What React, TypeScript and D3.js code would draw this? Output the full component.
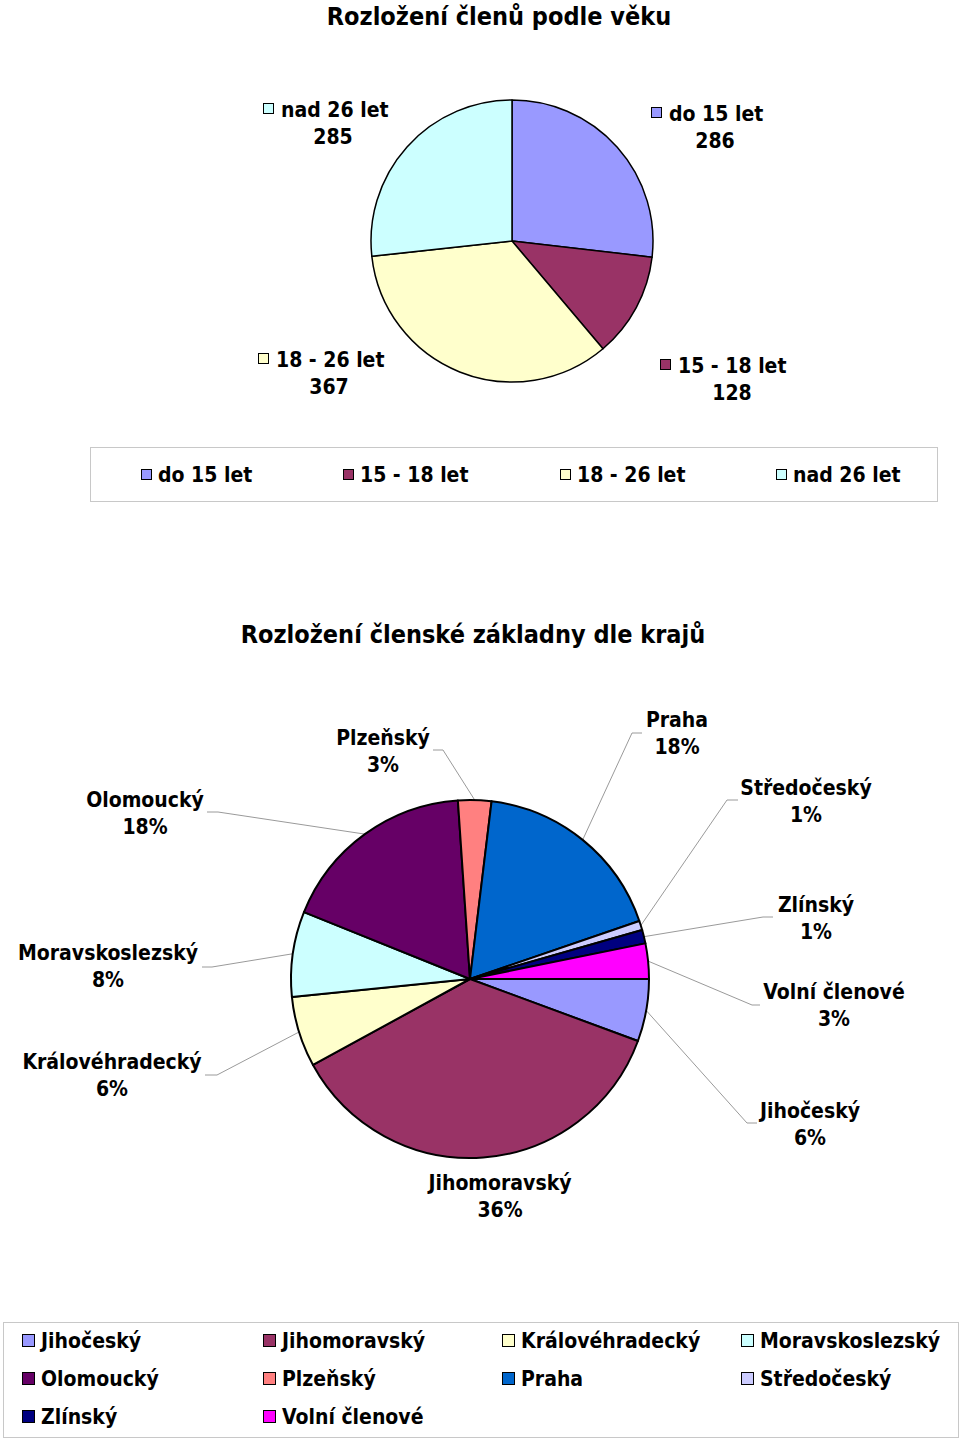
import React from "react";
import * as d3 from "d3";

// ---------- Data ----------
const ageCategories = ["do 15 let", "15 - 18 let", "18 - 26 let", "nad 26 let"];
const ageValues = [286, 128, 367, 285];
const ageColors = ["#9999FF", "#993366", "#FFFFCC", "#CCFFFF"];

const regionCategories = [
  "Jihočeský", "Jihomoravský", "Královéhradecký", "Moravskoslezský", "Olomoucký",
  "Plzeňský", "Praha", "Středočeský", "Zlínský", "Volní členové",
];
const regionValues = [60, 388, 68, 82, 190, 32, 190, 9, 13, 34];
const regionColors = [
  "#9999FF", "#993366", "#FFFFCC", "#CCFFFF", "#660066",
  "#FF8080", "#0066CC", "#CCCCFF", "#000080", "#FF00FF",
];

const ageTitle = "Rozložení členů podle věku";
const regionTitle = "Rozložení členské základny dle krajů";

// ---------- Layout ----------
const FONT = "'DejaVu Sans Condensed', 'DejaVu Sans', Tahoma, sans-serif";
const W = 960, H = 1440;

const pie1 = { cx: 512, cy: 241, r: 141 };
const pie2 = { cx: 470, cy: 979, r: 179 };

// age labels: key square x, first line baseline, value center x
const ageLabelPos = [
  { sx: 651, y: 121, vx: 715 },
  { sx: 660, y: 373, vx: 732 },
  { sx: 258, y: 367, vx: 329 },
  { sx: 263, y: 117, vx: 333 },
];

// region labels: center x, first baseline, leader start & elbow
const regionLabelPos: { x: number; y: number; s?: [number, number]; e?: [number, number] }[] = [
  { x: 810, y: 1118, s: [757, 1123], e: [747, 1123] },
  { x: 500, y: 1190 },
  { x: 112, y: 1069, s: [205, 1075], e: [217, 1075] },
  { x: 108, y: 960, s: [202, 967], e: [212, 967] },
  { x: 145, y: 807, s: [207, 812], e: [218, 812] },
  { x: 383, y: 745, s: [433, 750], e: [443, 750] },
  { x: 677, y: 727, s: [642, 733], e: [632, 733] },
  { x: 806, y: 795, s: [738, 800], e: [727, 800] },
  { x: 816, y: 912, s: [773, 917], e: [763, 917] },
  { x: 834, y: 999, s: [760, 1005], e: [752, 1005] },
];

const legend1Pos = [141, 343, 560, 776];
const legend2Cols = [22, 263, 502, 741];
const legend2Rows = [1348, 1386, 1424];

export default function App() {
  const pieGen1 = d3.pie<number>().sort(null).startAngle(0).endAngle(2 * Math.PI);
  const arcs1 = pieGen1(ageValues);
  const arc1 = d3.arc<d3.PieArcDatum<number>>().innerRadius(0).outerRadius(pie1.r);

  const pieGen2 = d3.pie<number>().sort(null).startAngle(Math.PI / 2).endAngle(Math.PI / 2 + 2 * Math.PI);
  const arcs2 = pieGen2(regionValues);
  const arc2 = d3.arc<d3.PieArcDatum<number>>().innerRadius(0).outerRadius(pie2.r);
  const total2 = d3.sum(regionValues);
  const pct = d3.format(".0%");

  const textStyle: React.CSSProperties = { fontFamily: FONT, fontWeight: "bold", fontSize: 21, fill: "#000" };

  return (
    <svg width={W} height={H} style={{ position: "absolute", left: 0, top: 0 }}>
      <rect x={0} y={0} width={W} height={H} fill="#fff" />
      {/* Chart 1 */}
      <text x={499} y={25} textAnchor="middle" style={{ ...textStyle, fontSize: 25 }}>{ageTitle}</text>
      <g transform={`translate(${pie1.cx},${pie1.cy})`}>
        {arcs1.map((a, i) => (
          <path key={i} d={arc1(a) || ""} fill={ageColors[i]} stroke="#000" strokeWidth={1.5} strokeLinejoin="round" />
        ))}
      </g>
      {ageCategories.map((c, i) => {
        const p = ageLabelPos[i];
        return (
          <g key={c}>
            <rect x={p.sx + 0.5} y={p.y - 13.5} width={10} height={10} fill={ageColors[i]} stroke="#000" strokeWidth={1} />
            <text x={p.sx + 18} y={p.y} style={textStyle}>{c}</text>
            <text x={p.vx} y={p.y + 27} textAnchor="middle" style={textStyle}>{ageValues[i]}</text>
          </g>
        );
      })}
      <rect x={90.5} y={447.5} width={847} height={54} fill="none" stroke="#c8c8c8" strokeWidth={1} />
      {ageCategories.map((c, i) => (
        <g key={"l1" + c}>
          <rect x={legend1Pos[i] + 0.5} y={469.5} width={10} height={10} fill={ageColors[i]} stroke="#000" strokeWidth={1} />
          <text x={legend1Pos[i] + 17} y={482} style={textStyle}>{c}</text>
        </g>
      ))}

      {/* Chart 2 */}
      <text x={473} y={643} textAnchor="middle" style={{ ...textStyle, fontSize: 25 }}>{regionTitle}</text>
      <g>
        {arcs2.map((a, i) => {
          const p = regionLabelPos[i];
          if (!p.s || !p.e) return null;
          const mid = (a.startAngle + a.endAngle) / 2;
          const ex = pie2.cx + pie2.r * Math.sin(mid);
          const ey = pie2.cy - pie2.r * Math.cos(mid);
          return (
            <polyline key={"ld" + i} points={`${p.s[0]},${p.s[1]} ${p.e[0]},${p.e[1]} ${ex},${ey}`} fill="none" stroke="#9a9a9a" strokeWidth={1} />
          );
        })}
      </g>
      <g transform={`translate(${pie2.cx},${pie2.cy})`}>
        {arcs2.map((a, i) => (
          <path key={i} d={arc2(a) || ""} fill={regionColors[i]} stroke="#000" strokeWidth={2} strokeLinejoin="round" />
        ))}
      </g>
      {regionCategories.map((c, i) => {
        const p = regionLabelPos[i];
        return (
          <g key={"rl" + c}>
            <text x={p.x} y={p.y} textAnchor="middle" style={textStyle}>{c}</text>
            <text x={p.x} y={p.y + 27} textAnchor="middle" style={textStyle}>{pct(regionValues[i] / total2)}</text>
          </g>
        );
      })}
      <rect x={3.5} y={1322.5} width={955} height={115} fill="none" stroke="#c8c8c8" strokeWidth={1} />
      {regionCategories.map((c, i) => {
        const col = i % 4, row = Math.floor(i / 4);
        const x = legend2Cols[col], y = legend2Rows[row];
        return (
          <g key={"l2" + c}>
            <rect x={x + 0.5} y={y - 13.5} width={12} height={12} fill={regionColors[i]} stroke="#000" strokeWidth={1} />
            <text x={x + 19} y={y} style={textStyle}>{c}</text>
          </g>
        );
      })}
    </svg>
  );
}
